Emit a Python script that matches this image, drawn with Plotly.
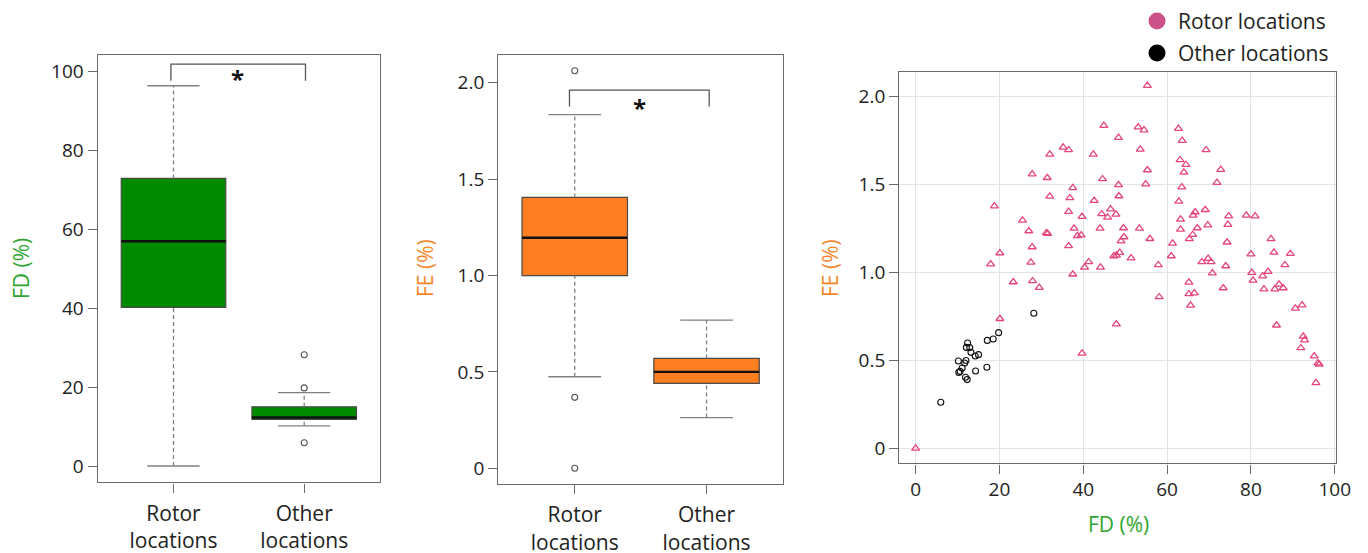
import plotly.graph_objects as go

W, H = 1368, 553

# ---------------- data ----------------
box_positions = [1, 2]
box_labels = ["Rotor<br>locations", "Other<br>locations"]

# FD (%) box statistics: Rotor, Other
fd_q1 = [40.2, 11.8]
fd_median = [57.0, 12.3]
fd_q3 = [72.9, 15.0]
fd_lower = [0.0, 10.2]
fd_upper = [96.4, 18.6]
fd_outlier_pos = [2, 2, 2]
fd_outliers = [28.2, 19.8, 5.9]

# FE (%) box statistics: Rotor, Other
fe_q1 = [0.999, 0.441]
fe_median = [1.196, 0.500]
fe_q3 = [1.405, 0.570]
fe_lower = [0.475, 0.263]
fe_upper = [1.834, 0.769]
fe_outlier_pos = [1, 1, 1]
fe_outliers = [2.062, 0.368, 0.0]

# scatter: rotor locations
rotor_fd = [0.0, 18.8, 17.9, 20.1, 20.1, 23.3, 25.5, 27.0, 27.8, 27.8, 27.5, 27.9, 29.5,
            31.4, 32.0, 32.0, 31.2, 31.5, 35.2, 36.5, 36.5, 36.8, 36.5, 37.5, 37.8, 38.6,
            39.5, 39.7, 37.5, 39.7, 40.3, 41.3, 42.4, 42.6, 44.9, 44.6, 44.4, 44.0, 44.1,
            45.8, 46.5, 47.8, 48.4, 48.4, 48.5, 49.6, 49.7, 49.0, 48.7, 47.3, 47.9, 47.9,
            51.4, 53.1, 54.5, 53.6, 55.3, 55.3, 54.9, 53.4, 55.9, 57.9, 58.1, 61.0, 61.3,
            62.7, 63.6, 63.1, 64.5, 64.0, 63.5, 62.8, 63.2, 63.2, 66.2, 66.7, 66.1, 65.3,
            67.2, 65.2, 65.2, 66.5, 65.6, 69.3, 69.1, 69.7, 68.3, 69.8, 70.5, 70.8, 72.8,
            71.9, 74.7, 74.5, 74.3, 74.0, 73.4, 78.9, 81.0, 80.0, 80.2, 80.5, 82.8, 84.1,
            83.1, 84.8, 85.5, 85.7, 86.7, 87.7, 88.1, 89.4, 86.1, 90.6, 92.2, 92.5, 92.8,
            91.9, 95.1, 96.0, 96.3, 95.5]
rotor_fe = [0.0, 1.378, 1.048, 1.111, 0.737, 0.946, 1.297, 1.236, 1.560, 1.145, 1.058, 0.952, 0.914,
            1.539, 1.433, 1.672, 1.225, 1.221, 1.712, 1.697, 1.346, 1.424, 1.151, 1.481, 1.251, 1.208,
            1.213, 1.318, 0.990, 0.540, 1.029, 1.060, 1.672, 1.409, 1.835, 1.532, 1.333, 1.251, 1.029,
            1.314, 1.361, 1.331, 1.767, 1.498, 1.435, 1.253, 1.202, 1.179, 1.113, 1.094, 1.098, 0.707,
            1.082, 1.827, 1.810, 1.700, 2.063, 1.583, 1.503, 1.251, 1.192, 1.043, 0.861, 1.094, 1.166,
            1.818, 1.750, 1.640, 1.613, 1.570, 1.486, 1.405, 1.302, 1.245, 1.325, 1.344, 1.215, 1.191,
            1.253, 0.944, 0.878, 0.883, 0.813, 1.697, 1.357, 1.270, 1.060, 1.079, 1.060, 0.997, 1.585,
            1.511, 1.321, 1.272, 1.172, 1.037, 0.912, 1.325, 1.321, 1.105, 0.999, 0.955, 0.980, 1.005,
            0.906, 1.191, 1.115, 0.906, 0.933, 0.912, 1.043, 1.107, 0.700, 0.796, 0.815, 0.637, 0.616,
            0.571, 0.525, 0.485, 0.478, 0.372]

# scatter: other locations
other_fd = [6.0, 10.2, 10.3, 10.6, 11.1, 11.7, 12.0, 11.9, 12.3, 12.4, 12.1, 12.9, 13.2,
            14.2, 15.0, 14.3, 17.0, 17.1, 18.5, 19.8, 28.2]
other_fe = [0.262, 0.497, 0.432, 0.438, 0.457, 0.485, 0.500, 0.404, 0.391, 0.599, 0.574, 0.573, 0.546,
            0.525, 0.533, 0.440, 0.461, 0.614, 0.622, 0.658, 0.768]

fd_ticks = [0, 20, 40, 60, 80, 100]
fe_ticks = [0, 0.5, 1.0, 1.5, 2.0]
fe_ticktext = ["0", "0.5", "1.0", "1.5", "2.0"]

legend_names = ["Rotor locations", "Other locations"]

# ---------------- style ----------------
FONT = "Open Sans"
GREEN = "#008A00"
ORANGE = "#FD7F22"
GREEN_TXT = "#2EA52E"
ORANGE_TXT = "#F7862A"
PINK = "#E5457E"
PINK_LEG = "#CC528A"
FRAME = "#6a6a6a"
WHISK = "#808080"
TXT = "#222222"


def px_x(p):
    return p / W


def px_y(p):
    return 1 - p / H


fig = go.Figure()


def add_box_panel(xa, ya, q1, med, q3, lo, hi, opos, ovals, fill):
    wx, wy = [], []
    cx, cy = [], []
    for i, p in enumerate(box_positions):
        wx += [p, p, None, p, p, None]
        wy += [q3[i], hi[i], None, lo[i], q1[i], None]
        cx += [p - 0.2, p + 0.2, None, p - 0.2, p + 0.2, None]
        cy += [hi[i], hi[i], None, lo[i], lo[i], None]
    fig.add_trace(go.Scatter(x=wx, y=wy, mode="lines", xaxis=xa, yaxis=ya,
                             line=dict(color=WHISK, width=1.3, dash="4px,3px"),
                             showlegend=False, hoverinfo="skip"))
    fig.add_trace(go.Scatter(x=cx, y=cy, mode="lines", xaxis=xa, yaxis=ya,
                             line=dict(color=WHISK, width=1.3),
                             showlegend=False, hoverinfo="skip"))
    fig.add_trace(go.Box(x=box_positions, q1=q1, median=med, q3=q3,
                         lowerfence=q1, upperfence=q3, width=0.8,
                         fillcolor=fill, line=dict(color="#4a4a4a", width=1.2),
                         boxpoints=False, xaxis=xa, yaxis=ya,
                         showlegend=False, hoverinfo="skip"))
    mx, my = [], []
    for i, p in enumerate(box_positions):
        mx += [p - 0.4, p + 0.4, None]
        my += [med[i], med[i], None]
    fig.add_trace(go.Scatter(x=mx, y=my, mode="lines", xaxis=xa, yaxis=ya,
                             line=dict(color="#111111", width=2.4),
                             showlegend=False, hoverinfo="skip"))
    fig.add_trace(go.Scatter(x=opos, y=ovals, mode="markers", xaxis=xa, yaxis=ya,
                             marker=dict(symbol="circle-open", size=6, color="#555555",
                                         line=dict(width=1.1)),
                             showlegend=False, hoverinfo="skip"))


add_box_panel("x", "y", fd_q1, fd_median, fd_q3, fd_lower, fd_upper,
              fd_outlier_pos, fd_outliers, GREEN)
add_box_panel("x2", "y2", fe_q1, fe_median, fe_q3, fe_lower, fe_upper,
              fe_outlier_pos, fe_outliers, ORANGE)

# scatter panel
fig.add_trace(go.Scatter(x=rotor_fd, y=rotor_fe, mode="markers", xaxis="x3", yaxis="y3",
                         marker=dict(symbol="triangle-up-open", size=7, color=PINK,
                                     line=dict(width=1.3)),
                         name=legend_names[0], showlegend=False, hoverinfo="skip"))
fig.add_trace(go.Scatter(x=other_fd, y=other_fe, mode="markers", xaxis="x3", yaxis="y3",
                         marker=dict(symbol="circle-open", size=6, color="#111111",
                                     line=dict(width=1.1)),
                         name=legend_names[1], showlegend=False, hoverinfo="skip"))

tickfont = dict(family=FONT, size=19, color=TXT)
common = dict(showline=True, mirror=True, linecolor=FRAME, linewidth=1.4,
              ticks="outside", ticklen=9, tickcolor=FRAME, tickwidth=1.3,
              tickfont=tickfont, zeroline=False, showgrid=False)
catfont = dict(family=FONT, size=21, color=TXT)

fig.update_layout(
    width=W, height=H, autosize=False,
    margin=dict(l=0, r=0, t=0, b=0, autoexpand=False),
    paper_bgcolor="white", plot_bgcolor="white",
    font=dict(family=FONT, color=TXT),
    showlegend=False,
    xaxis=dict(domain=[px_x(97.7), px_x(380)], range=[0.42, 2.58],
               tickvals=box_positions, ticktext=box_labels, ticklabelstandoff=3,
               anchor="y", **{**common, "tickfont": catfont}),
    yaxis=dict(domain=[px_y(482.3), px_y(55)], range=[-4.13, 104.2],
               tickvals=fd_ticks, anchor="x", **common),
    xaxis2=dict(domain=[px_x(498.3), px_x(783)], range=[0.42, 2.58],
                tickvals=box_positions, ticktext=box_labels, ticklabelstandoff=3,
                anchor="y2", **{**common, "tickfont": catfont}),
    yaxis2=dict(domain=[px_y(484), px_y(55)], range=[-0.0814, 2.1437],
                tickvals=fe_ticks, ticktext=fe_ticktext, anchor="x2", **common),
    xaxis3=dict(domain=[px_x(899.3), px_x(1336)], range=[-3.9, 100.3],
                tickvals=fd_ticks, anchor="y3",
                **{**common, "showgrid": True, "gridcolor": "#e3e3e3", "gridwidth": 1}),
    yaxis3=dict(domain=[px_y(463.3), px_y(71.7)], range=[-0.085, 2.142],
                tickvals=fe_ticks, ticktext=fe_ticktext, anchor="x3",
                **{**common, "showgrid": True, "gridcolor": "#e3e3e3", "gridwidth": 1}),
)

# significance brackets
fig.add_shape(type="path", xref="x", yref="y",
              path="M 0.98 97.7 L 0.98 101.9 L 2.01 101.9 L 2.01 97.7",
              line=dict(color="#555555", width=1.3))
fig.add_shape(type="path", xref="x2", yref="y2",
              path="M 0.96 1.876 L 0.96 1.962 L 2.02 1.962 L 2.02 1.876",
              line=dict(color="#555555", width=1.3))

# legend (drawn as symbols + text in paper space)
legend_colors = [PINK_LEG, "#000000"]
legend_rows = [21, 53]
for name, col, row in zip(legend_names, legend_colors, legend_rows):
    fig.add_shape(type="circle", xref="paper", yref="paper",
                  xsizemode="pixel", ysizemode="pixel",
                  xanchor=px_x(1157), yanchor=px_y(row),
                  x0=-8.5, x1=8.5, y0=-8.5, y1=8.5,
                  fillcolor=col, line=dict(width=0))

annotations = [
    dict(x=1.49, y=98.2, xref="x", yref="y", text="<b>*</b>", showarrow=False,
         xanchor="center", yanchor="middle",
         font=dict(family=FONT, size=24, color="#111111")),
    dict(x=1.49, y=1.87, xref="x2", yref="y2", text="<b>*</b>", showarrow=False,
         xanchor="center", yanchor="middle",
         font=dict(family=FONT, size=24, color="#111111")),
    dict(x=px_x(21), y=px_y(269), xref="paper", yref="paper", text="FD (%)",
         xanchor="center", yanchor="middle",
         textangle=-90, showarrow=False, font=dict(family=FONT, size=21, color=GREEN_TXT)),
    dict(x=px_x(425), y=px_y(268), xref="paper", yref="paper", text="FE (%)",
         xanchor="center", yanchor="middle",
         textangle=-90, showarrow=False, font=dict(family=FONT, size=21, color=ORANGE_TXT)),
    dict(x=px_x(830), y=px_y(268), xref="paper", yref="paper", text="FE (%)",
         xanchor="center", yanchor="middle",
         textangle=-90, showarrow=False, font=dict(family=FONT, size=21, color=ORANGE_TXT)),
    dict(x=px_x(1118), y=px_y(524), xref="paper", yref="paper", text="FD (%)",
         xanchor="center", yanchor="middle",
         showarrow=False, font=dict(family=FONT, size=21, color=GREEN_TXT)),
]
for name, row in zip(legend_names, legend_rows):
    annotations.append(dict(x=px_x(1176), y=px_y(row), xref="paper", yref="paper",
                            text=name, xanchor="left", yanchor="middle", showarrow=False,
                            font=dict(family=FONT, size=21, color=TXT)))
fig.update_layout(annotations=annotations)

fig.write_html("out.html", config={"displayModeBar": False, "responsive": False},
               post_script="document.body.style.margin='0px';document.body.style.overflow='hidden';")
